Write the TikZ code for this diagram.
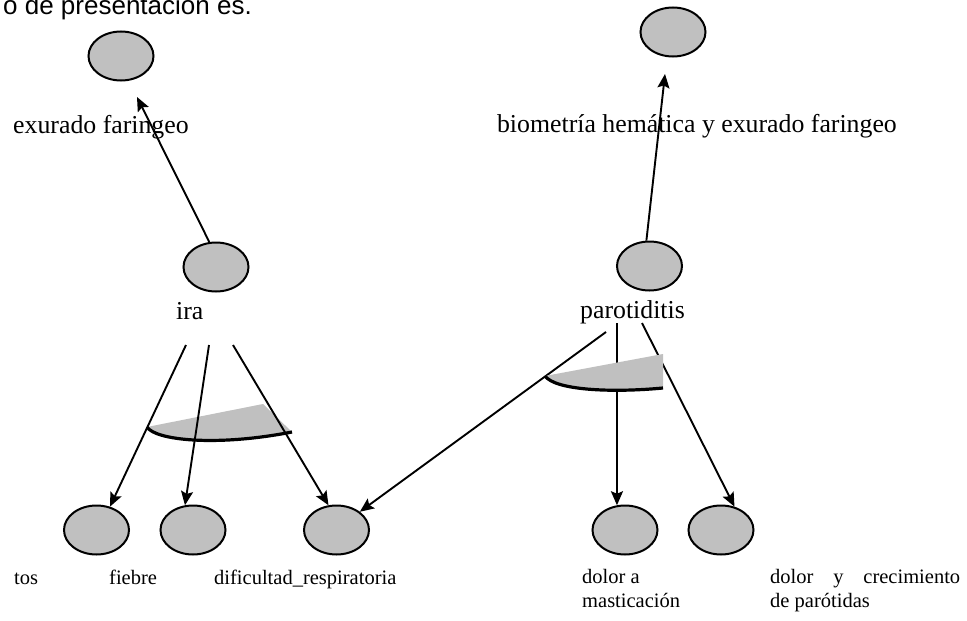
\documentclass[tikz,border=0pt]{standalone}
\usepackage{fontspec}
\setmainfont{Liberation Serif}
\newfontfamily\arialfont{Liberation Sans}
\usetikzlibrary{shapes.geometric,arrows.meta}
\definecolor{nodegray}{RGB}{192,192,192}
\tikzset{
  blob/.style={ellipse, draw=black, fill=nodegray, line width=2pt, minimum width=65pt, minimum height=49pt, inner sep=0pt},
  arr/.style={line width=1.9pt, -{Stealth[length=14pt,width=12pt,inset=2.5pt]}},
  biglab/.style={font=\fontsize{25.8}{30}\selectfont, inner sep=0pt},
  smalllab/.style={font=\fontsize{20.5}{24}\selectfont, inner sep=0pt},
  andfill/.style={fill=nodegray, draw=none},
  andline/.style={line width=3.2pt}
}
\begin{document}
\begin{tikzpicture}[x=1pt,y=-1pt]
\useasboundingbox (0,0) rectangle (967,621);
\fill[white] (0,0) rectangle (967,621);

% top cut-off sentence
\node[anchor=base east, inner sep=0pt, font=\arialfont\fontsize{26}{30}\selectfont] (title) at (252,14) {o de presentación es.};

% ellipses
\node[blob] (exu) at (121,56) {};
\node[blob] (bio) at (673,32) {};
\node[blob] (ira) at (216,267) {};
\node[blob] (paro) at (649.5,266) {};
\node[blob] (tos) at (96.5,530) {};
\node[blob] (fiebre) at (193,530) {};
\node[blob] (dific) at (336.5,530) {};
\node[blob] (dolora) at (625,530) {};
\node[blob] (doly) at (721,530) {};

% labels
\node[biglab, anchor=base west] (lexu) at (13,133) {exurado faringeo};
\node[biglab, anchor=base east] (lbio) at (897,132) {biometría hemática y exurado faringeo};
\node[biglab, anchor=base west] (lira) at (176,319) {ira};
\node[biglab, anchor=base west] (lparo) at (580,318) {parotiditis};
\node[smalllab, anchor=base west] (ltos) at (14,584) {tos};
\node[smalllab, anchor=base west] (lfiebre) at (109,584) {fiebre};
\node[smalllab, anchor=base west] (ldific) at (214,584) {dificultad\_respiratoria};
\node[smalllab, anchor=base west] (ldolora1) at (582,583) {dolor a};
\node[smalllab, anchor=base west] (ldolora2) at (582,607) {masticación};
\node[smalllab, anchor=base west] (ldoly1) at (770,583) {\hbox to 190pt{dolor\hfill y\hfill crecimiento}};
\node[smalllab, anchor=base west] (ldoly2) at (770,607) {de parótidas};

% free ends
\coordinate (texu) at (137,97);
\coordinate (tbio) at (665,74);
\coordinate (ia) at (186,345);
\coordinate (ib) at (209,345);
\coordinate (ic) at (233,345);
\coordinate (pa) at (606,332);
\coordinate (pb) at (617,323);
\coordinate (pc) at (642,323);

% upward arrows
\draw[arr] (ira.105) -- (texu);
\draw[arr] (paro.97) -- (tbio);

% AND arc for ira (under lines)
\fill[andfill] (147,427) -- (263,404) -- (292,432) .. controls (215,447) and (155,440) .. (147,427) -- cycle;
\draw[andline] (147,427) .. controls (155,440) and (215,447) .. (292,432);

% ira arrows
\draw[arr] (ia) -- (tos.60);
\draw[arr] (ib) -- (fiebre.108);
\draw[arr] (ic) -- (dific.108);

% parotiditis arrows
\draw[arr] (pa) -- (dific.38);
\draw[arr] (pb) -- (dolora.108);
\draw[arr] (pc) -- (doly.60);

% AND arc for parotiditis (over lines)
\fill[andfill] (545,376) -- (663,354) -- (663,388) .. controls (610,393) and (555,390) .. (545,376) -- cycle;
\draw[andline] (545,376) .. controls (555,390) and (610,393) .. (663,388);
\end{tikzpicture}
\end{document}
